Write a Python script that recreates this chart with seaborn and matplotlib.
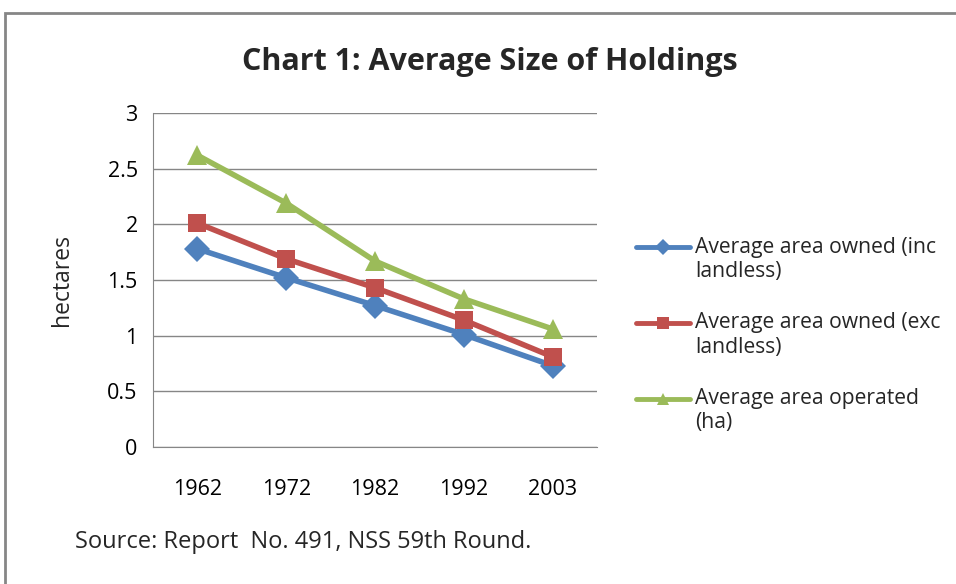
import numpy as np
import pandas as pd
import seaborn as sns
import matplotlib.pyplot as plt
from matplotlib.patches import Rectangle
from matplotlib.lines import Line2D
from matplotlib.legend_handler import HandlerLine2D

# values (hectares)
years = ['1962', '1972', '1982', '1992', '2003']
owned_inc = [1.78, 1.52, 1.27, 1.01, 0.73]
owned_exc = [2.01, 1.69, 1.43, 1.14, 0.81]
operated = [2.62, 2.19, 1.67, 1.33, 1.06]

series_names = ['Average area owned (inc\nlandless)',
                'Average area owned (exc\nlandless)',
                'Average area operated\n(ha)']
colors = ['#4F81BD', '#C0504D', '#9BBB59']
markers = ['D', 's', '^']
marker_sizes = [13, 13, 14]

rows = []
for name, vals in zip(series_names, [owned_inc, owned_exc, operated]):
    for i, v in enumerate(vals):
        rows.append({'pos': i, 'year': years[i], 'series': name, 'value': v})
df = pd.DataFrame(rows)


class FirstLineHandler(HandlerLine2D):
    # put the legend key next to the first line of a two-line label
    def create_artists(self, legend, orig_handle, xdescent, ydescent,
                       width, height, fontsize, trans):
        arts = super().create_artists(legend, orig_handle, xdescent, ydescent,
                                      width, height, fontsize, trans)
        for a in arts:
            a.set_ydata(np.asarray(a.get_ydata(), dtype=float) + 0.6 * fontsize)
        return arts


sns.set_style('white')
plt.rcParams['font.family'] = ['Open Sans', 'DejaVu Sans']

fig = plt.figure(figsize=(9.56, 5.84), dpi=100)
ax = fig.add_axes([0.160, 0.2346, 0.4645, 0.572])

sns.lineplot(data=df, x='pos', y='value', hue='series', style='series',
             palette=dict(zip(series_names, colors)),
             markers=dict(zip(series_names, markers)),
             dashes=False, linewidth=4, markeredgewidth=0, legend=False,
             ax=ax)
for ln, ms in zip(ax.get_lines(), marker_sizes):
    ln.set_markersize(ms)

ax.set_xlim(-0.5, 4.5)
ax.set_ylim(0, 3)
ax.set_yticks(np.arange(0, 3.01, 0.5))
ax.set_yticklabels(['0', '0.5', '1', '1.5', '2', '2.5', '3'])
ax.set_xticks(range(len(years)))
ax.set_xticklabels(years)
ax.tick_params(axis='both', labelsize=15.5, colors='black')
ax.tick_params(axis='y', length=5, color='#868686', pad=6)
ax.tick_params(axis='x', length=0, pad=23)
ax.grid(axis='y', color='#868686', linewidth=1)
ax.set_axisbelow(True)
for s in ['top', 'right']:
    ax.spines[s].set_visible(False)
ax.spines['left'].set_color('#868686')
ax.spines['bottom'].set_color('#868686')
ax.set_xlabel('')
ax.set_ylabel('hectares', fontsize=16.5)
ax.yaxis.set_label_coords(-0.178, 0.5)

handles = [Line2D([], [], color=c, marker=m, linewidth=3.5, markersize=8,
                  markeredgewidth=0) for c, m in zip(colors, markers)]
leg = ax.legend(handles, series_names, loc='center left',
                bbox_to_anchor=(1.045, 0.335), frameon=False,
                fontsize=15.2, handlelength=2.55, handletextpad=0.25,
                labelspacing=1.45,
                handler_map={Line2D: FirstLineHandler()})

fig.text(0.512, 0.880, 'Chart 1: Average Size of Holdings', ha='center',
         va='baseline', fontsize=22, fontweight='bold')
fig.text(0.078, 0.0616, 'Source: Report  No. 491, NSS 59th Round.',
         ha='left', va='baseline', fontsize=17)

fig.patches.append(Rectangle((5 / 956, -0.05), 1.0, 1 - 13 / 584 + 0.05,
                             transform=fig.transFigure, fill=False,
                             edgecolor='#868686', linewidth=2))

fig.savefig('out.png', dpi=100)
